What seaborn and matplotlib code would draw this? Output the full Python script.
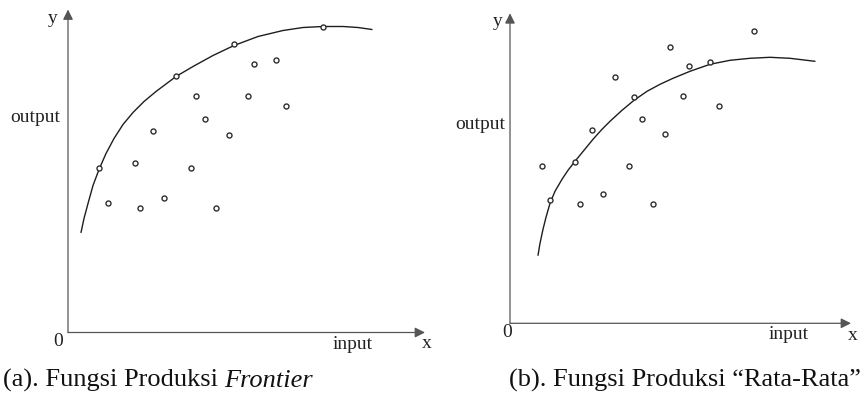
import numpy as np
import pandas as pd
import matplotlib
matplotlib.use('Agg')
import matplotlib.pyplot as plt
import seaborn as sns

# observed firms (input, output) - left panel, frontier
frontier_x = [3.1, 4.0, 6.7, 7.2, 8.5, 9.6, 10.8, 12.3, 12.8, 13.7, 14.8, 16.1, 16.6, 18.0, 18.6, 20.8, 21.8, 25.5]
frontier_y = [16.4, 12.9, 16.9, 12.4, 20.1, 13.4, 25.6, 16.4, 23.6, 21.3, 12.4, 19.7, 28.8, 23.6, 26.8, 27.2, 22.6, 30.5]

# frontier curve
frontier_curve_x = [1.3, 1.6, 2.0, 2.5, 3.1, 3.8, 4.6, 5.5, 6.5, 7.6, 8.8, 10.8, 12.5, 14.5, 16.6,
                    19.0, 21.5, 23.5, 25.5, 27.5, 29.0, 30.4]
frontier_curve_y = [10.0, 11.4, 12.9, 14.7, 16.3, 17.9, 19.4, 20.8, 22.0, 23.1, 24.1, 25.6, 26.6, 27.7, 28.7,
                    29.6, 30.2, 30.5, 30.6, 30.6, 30.5, 30.3]

# observed firms - right panel, average function
average_x = [3.2, 4.0, 6.5, 7.0, 8.2, 9.3, 10.5, 11.9, 12.4, 13.2, 14.3, 15.5, 16.0, 17.3, 17.9, 20.0, 20.9, 24.4]
average_y = [15.7, 12.3, 16.1, 11.9, 19.3, 12.9, 24.6, 15.7, 22.6, 20.4, 11.9, 18.9, 27.6, 22.7, 25.7, 26.1, 21.7, 29.2]

average_curve_x = [2.8, 3.0, 3.3, 3.6, 4.0, 4.5, 5.2, 5.8, 6.5, 7.4, 8.3, 9.2, 10.0, 11.2, 12.4,
                   13.7, 15.0, 16.3, 18.0, 20.0, 22.0, 24.0, 26.0, 28.0, 30.5]
average_curve_y = [6.8, 8.0, 9.4, 10.6, 12.0, 13.2, 14.4, 15.3, 16.2, 17.3, 18.4, 19.4, 20.2, 21.3, 22.3,
                   23.2, 23.9, 24.5, 25.2, 25.9, 26.3, 26.5, 26.6, 26.5, 26.2]

captions = ['(a). Fungsi Produksi ', 'Frontier', '(b). Fungsi Produksi \u201cRata-Rata\u201d']

sns.set_theme(style='white')
plt.rcParams['font.family'] = ['Liberation Serif', 'DejaVu Serif']

W, H = 863, 398
fig = plt.figure(figsize=(W / 100, H / 100), dpi=100)


def px_axes(x0, y0, x1, y1):
    # origin (x0, y0) and arrow tips (x1, y1) in image pixels
    return fig.add_axes([x0 / W, (H - y0) / H, (x1 - x0) / W, (y0 - y1) / H])


def label(x, y, s, size=14, **kw):
    fig.text(x / W, 1 - y / H, s, fontsize=size, color='#222222',
             ha='center', va='center', **kw)


def draw_panel(ax, pts, curve, xmax, ymax):
    sns.lineplot(data=curve, x='x', y='y', sort=False, estimator=None,
                 color='#1e1e1e', linewidth=1.0, ax=ax)
    sns.scatterplot(data=pts, x='x', y='y', s=13, facecolor='white',
                    edgecolor='#2e2e2e', linewidth=1.0, zorder=3, ax=ax)
    ax.set_xlim(0, xmax)
    ax.set_ylim(0, ymax)
    ax.set_axis_off()
    arrow = dict(arrowstyle='-|>', color='#555555', lw=0.9,
                 mutation_scale=15, shrinkA=0, shrinkB=0)
    ax.annotate('', xy=(0, 1), xytext=(0, 0), xycoords='axes fraction',
                arrowprops=arrow, annotation_clip=False)
    ax.annotate('', xy=(1, 0), xytext=(0, 0), xycoords='axes fraction',
                arrowprops=arrow, annotation_clip=False)


left = pd.DataFrame({'x': frontier_x, 'y': frontier_y})
left_curve = pd.DataFrame({'x': frontier_curve_x, 'y': frontier_curve_y})
right = pd.DataFrame({'x': average_x, 'y': average_y})
right_curve = pd.DataFrame({'x': average_curve_x, 'y': average_curve_y})

ax1 = px_axes(68, 332.5, 425, 9.5)
draw_panel(ax1, left, left_curve, 35.7, 32.3)
ax2 = px_axes(510, 323.3, 851, 13.3)
draw_panel(ax2, right, right_curve, 34.1, 31.0)

# axis texts
label(52.5, 18.5, 'y')
label(35, 117.5, 'output')
label(57.7, 341.5, '0')
label(353, 344.5, 'input')
label(426.7, 344, 'x')

label(497.5, 21, 'y')
label(480, 124.5, 'output')
label(507.3, 332.5, '0')
label(789, 334.5, 'input')
label(853, 335, 'x')

# captions
t = fig.text(3 / W, 1 - 387 / H, captions[0], fontsize=19, color='#111111',
             ha='left', va='baseline')
fig.canvas.draw()
bb = t.get_window_extent(renderer=fig.canvas.get_renderer())
fig.text(bb.x1 / W, 1 - 387 / H, captions[1], fontsize=19, color='#111111',
         ha='left', va='baseline', style='italic')
fig.text(861 / W, 1 - 387 / H, captions[2], fontsize=19, color='#111111',
         ha='right', va='baseline')

fig.savefig('out.png', dpi=100)
